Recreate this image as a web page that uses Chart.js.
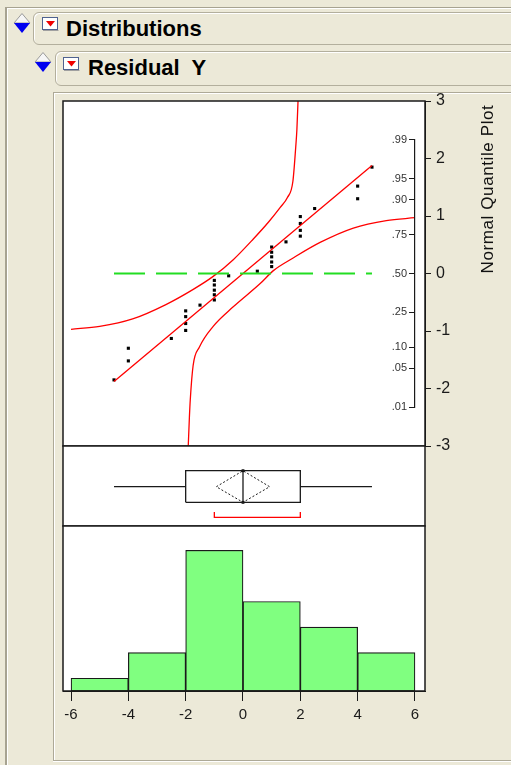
<!DOCTYPE html>
<html>
<head>
<meta charset="utf-8">
<script src="https://cdn.jsdelivr.net/npm/chart.js@4.4.1/dist/chart.umd.min.js"></script>
<style>
  html, body { margin: 0; padding: 0; }
  body { width: 511px; height: 765px; overflow: hidden; background: #ECE9D8; position: relative;
         font-family: "Liberation Sans", Arial, sans-serif; }
  canvas { position: absolute; left: 0; top: 0; }
  .outer { position: absolute; left: 5px; top: 7px; width: 530px; height: 780px;
           border-left: 2px solid #A7A391; border-top: 1px solid #A7A391; box-shadow: inset 1px 1px 0 #fff; }
  .hdr { position: absolute; height: 31px; width: 520px; border: 1px solid #B3AF9D; border-radius: 6px;
         box-shadow: inset 1px 1px 0 #fff; }
  .lbl { position: absolute; font-weight: bold; font-size: 22px; line-height: 22px; white-space: pre; color: #000; }
  .panel { position: absolute; left: 53px; top: 92px; width: 480px; height: 667px;
           border: 1px solid #ADA997; box-shadow: inset 1px 1px 0 #fff, 0 1px 0 #fff; }
  svg { position: absolute; }
  .qtitle { position: absolute; left: 388px; top: 179px; width: 200px; text-align: center;
            font-size: 17px; line-height: 20px; color: #111; transform: rotate(-90deg); letter-spacing: 0.6px; }
</style>
</head>
<body>
<div class="outer"></div>

<div class="hdr" style="left:33px; top:12px;"></div>
<svg style="left:13px; top:13px;" width="18" height="21" viewBox="0 0 18 21">
  <polygon points="9,0.5 17,10 1,10" fill="#F6F6F6" stroke="#9A9A9A" stroke-width="1"/>
  <polygon points="1,10 17,10 9,20" fill="#0000F0"/>
</svg>
<svg style="left:42px; top:17px;" width="17" height="14" viewBox="0 0 17 14">
  <rect x="0.5" y="0.5" width="15" height="12" fill="#fff" stroke="#4F6290"/>
  <polygon points="4,4 13,4 8.5,9.5" fill="#F00000"/>
  <line x1="1" y1="13.5" x2="16.5" y2="13.5" stroke="#A0A0A0"/>
</svg>
<div class="lbl" style="left:66px; top:18px;">Distributions</div>

<div class="hdr" style="left:55px; top:51px; height:33px;"></div>
<svg style="left:34px; top:52px;" width="18" height="21" viewBox="0 0 18 21">
  <polygon points="9,0.5 17,10 1,10" fill="#F6F6F6" stroke="#9A9A9A" stroke-width="1"/>
  <polygon points="1,10 17,10 9,20" fill="#0000F0"/>
</svg>
<svg style="left:63px; top:57px;" width="17" height="14" viewBox="0 0 17 14">
  <rect x="0.5" y="0.5" width="15" height="12" fill="#fff" stroke="#4F6290"/>
  <polygon points="4,4 13,4 8.5,9.5" fill="#F00000"/>
  <line x1="1" y1="13.5" x2="16.5" y2="13.5" stroke="#A0A0A0"/>
</svg>
<div class="lbl" style="left:88px; top:57px;">Residual  Y</div>

<div class="panel"></div>

<canvas id="quant" width="511" height="765"></canvas>
<canvas id="box" width="511" height="765"></canvas>
<canvas id="hist" width="511" height="765"></canvas>
<canvas id="prob" width="511" height="765"></canvas>
<div class="qtitle">Normal Quantile Plot</div>

<script>
// residual values and their normal quantiles
const residuals = [-4.5, -4, -4, -2.5, -2, -2, -2, -2, -1.5, -1, -1, -1, -1, -1, -0.5,
                   0.5, 1, 1, 1, 1, 1, 1.5, 2, 2, 2, 2, 2.5, 4, 4, 4.5];
const quantiles = [-1.85, -1.52, -1.30, -1.13, -0.99, -0.87, -0.75, -0.65, -0.55, -0.46, -0.37, -0.29, -0.20, -0.12, -0.04,
                   0.04, 0.12, 0.20, 0.29, 0.37, 0.46, 0.55, 0.65, 0.75, 0.87, 0.99, 1.13, 1.30, 1.52, 1.85];

// fitted normal line
const fitX = [-4.5, 4.5];
const fitZ = [-1.88, 1.88];

// confidence bands
const upperX = [-6.0, -5.0, -3.85, -2.69, -1.75, -1.04, -0.34, 0.36, 0.9, 1.3, 1.55, 1.74, 1.84, 1.88, 1.92];
const upperZ = [-0.97, -0.92, -0.79, -0.54, -0.28, -0.05, 0.24, 0.60, 0.90, 1.15, 1.32, 1.60, 2.2, 2.5, 3.0];
const lowerX = [-1.91, -1.87, -1.84, -1.74, -1.52, -1.04, -0.34, 0.59, 1.06, 1.75, 2.69, 3.85, 5.0, 6.0];
const lowerZ = [-3.0, -2.5, -2.2, -1.6, -1.28, -0.92, -0.58, -0.18, 0.05, 0.27, 0.54, 0.79, 0.92, 0.97];

// median reference line
const refX = [-4.5, 4.5];
const refZ = [0, 0];

// probability scale
const probLabels = [".01", ".05", ".10", ".25", ".50", ".75", ".90", ".95", ".99"];
const probZ = [-2.326, -1.645, -1.282, -0.674, 0, 0.674, 1.282, 1.645, 2.326];

// box plot summary
const whiskers = [-4.5, 4.5];
const quartiles = [-2, 0, 2];
const meanDiamond = [-0.93, 0, 0.93];
const shortestHalf = [-1, 2];

// histogram
const binCenters = [-5, -3, -1, 1, 3, 5];
const binCounts = [1, 3, 11, 7, 5, 3];
const xTicks = [-6, -4, -2, 0, 2, 4, 6];

const FONT = "'Liberation Sans', Arial, sans-serif";
const X_MIN = -6.28, X_MAX = 6.35;
const INK = "#1a1a1a";

const framePlugin = {
  id: "frame",
  beforeDraw(chart) {
    const a = chart.chartArea, ctx = chart.ctx;
    ctx.save();
    ctx.fillStyle = "#fff";
    ctx.fillRect(a.left, a.top, a.right - a.left, a.bottom - a.top);
    ctx.restore();
  },
  afterDraw(chart) {
    const a = chart.chartArea, ctx = chart.ctx;
    ctx.save();
    ctx.strokeStyle = INK;
    ctx.lineWidth = 1.5;
    ctx.strokeRect(a.left, a.top, a.right - a.left, a.bottom - a.top);
    ctx.restore();
  }
};

const baseOpts = (pad) => ({
  responsive: false,
  animation: false,
  events: [],
  layout: { padding: pad },
  plugins: { legend: { display: false }, tooltip: { enabled: false } }
});

const pts = (xs, ys) => xs.map((x, i) => ({ x: x, y: ys[i] }));
const line = (data, color, extra) => Object.assign({
  data: data, showLine: true, borderColor: color, borderWidth: 1.3, pointRadius: 0, fill: false
}, extra || {});

// ---- normal quantile plot
new Chart(document.getElementById("quant"), {
  type: "scatter",
  data: {
    datasets: [
      line(pts(refX, refZ), "#22DD22", { borderDash: [31, 11], borderWidth: 2 }),
      line(pts(upperX, upperZ), "#FF0000", { cubicInterpolationMode: "monotone" }),
      line(pts(lowerX, lowerZ), "#FF0000", { cubicInterpolationMode: "monotone" }),
      line(pts(fitX, fitZ), "#FF0000"),
      { data: pts(residuals, quantiles), pointStyle: "rect", pointRadius: 2.2, borderWidth: 0,
        backgroundColor: "#000", showLine: false }
    ]
  },
  options: Object.assign(baseOpts({ left: 63, right: 46, top: 101, bottom: 319 }), {
    scales: {
      x: { type: "linear", min: X_MIN, max: X_MAX, display: false },
      y: {
        type: "linear", position: "right", min: -3, max: 3,
        afterFit(s) { s.width = 40; },
        ticks: { stepSize: 1, color: INK, padding: 5, font: { family: FONT, size: 16 } },
        grid: { drawOnChartArea: false, tickLength: 6, color: INK, z: 3 },
        border: { color: INK, width: 1, z: 3 }
      }
    }
  }),
  plugins: [framePlugin]
});

// ---- probability axis inside the quantile plot
new Chart(document.getElementById("prob"), {
  type: "scatter",
  data: { datasets: [{ data: [{ x: 0.5, y: 0 }], pointRadius: 0, showLine: false }] },
  options: Object.assign(baseOpts({ left: 375, right: 86, top: 273.5 - probZ[8] * 57.5, bottom: 765 - (273.5 - probZ[0] * 57.5) }), {
    scales: {
      x: { type: "linear", min: 0, max: 1, display: false },
      y: {
        type: "linear", position: "left", min: probZ[0], max: probZ[8],
        afterFit(s) { s.width = 40; },
        afterBuildTicks(s) { s.ticks = probZ.map(v => ({ value: v })); },
        ticks: { autoSkip: false, color: "#333", padding: 2, font: { family: FONT, size: 11 },
                 callback: (v, i) => probLabels[i] },
        grid: { drawOnChartArea: false, tickLength: 6, color: INK, lineWidth: 1, z: 5 },
        border: { color: INK, width: 1.2, z: 5 }
      }
    }
  })
});

// ---- outlier box plot
const BOX_LO = 0.296, BOX_HI = 0.691, MID = 0.491, BR_LO = 0.109, BR_HI = 0.175;
new Chart(document.getElementById("box"), {
  type: "scatter",
  data: {
    datasets: [
      line([{ x: whiskers[0], y: MID }, { x: quartiles[0], y: MID }], INK),
      line([{ x: quartiles[2], y: MID }, { x: whiskers[1], y: MID }], INK),
      line([{ x: quartiles[0], y: BOX_LO }, { x: quartiles[2], y: BOX_LO }, { x: quartiles[2], y: BOX_HI },
            { x: quartiles[0], y: BOX_HI }, { x: quartiles[0], y: BOX_LO }], INK),
      line([{ x: quartiles[1], y: BOX_LO }, { x: quartiles[1], y: BOX_HI }], INK),
      line([{ x: meanDiamond[0], y: MID }, { x: meanDiamond[1], y: BOX_HI }, { x: meanDiamond[2], y: MID },
            { x: meanDiamond[1], y: BOX_LO }, { x: meanDiamond[0], y: MID }], INK, { borderDash: [2, 2], borderWidth: 1 }),
      line([{ x: shortestHalf[0], y: BR_HI }, { x: shortestHalf[0], y: BR_LO }, { x: shortestHalf[1], y: BR_LO },
            { x: shortestHalf[1], y: BR_HI }], "#FF0000"),
      { data: [{ x: quartiles[1], y: BOX_LO }, { x: quartiles[1], y: BOX_HI }], pointStyle: "rect",
        pointRadius: 2, borderWidth: 0, backgroundColor: "#000", showLine: false }
    ]
  },
  options: Object.assign(baseOpts({ left: 63, right: 86, top: 446, bottom: 239 }), {
    scales: {
      x: { type: "linear", min: X_MIN, max: X_MAX, display: false },
      y: { type: "linear", min: 0, max: 1, display: false }
    }
  }),
  plugins: [framePlugin]
});

// ---- histogram
new Chart(document.getElementById("hist"), {
  type: "bar",
  data: {
    datasets: [{
      data: pts(binCenters, binCounts),
      backgroundColor: "#80FF80",
      borderColor: INK,
      borderWidth: 1.2,
      borderSkipped: false,
      barPercentage: 1,
      categoryPercentage: 1
    }]
  },
  options: Object.assign(baseOpts({ left: 63, right: 86, top: 526, bottom: 44 }), {
    scales: {
      x: {
        type: "linear", min: X_MIN, max: X_MAX, offset: false,
        afterFit(s) { s.height = 30; },
        afterBuildTicks(s) { s.ticks = xTicks.map(v => ({ value: v })); },
        ticks: { autoSkip: false, maxRotation: 0, color: INK, padding: 5, font: { family: FONT, size: 15 } },
        grid: { drawOnChartArea: false, tickLength: 10, color: INK, offset: false, z: 3 },
        border: { color: INK, width: 1, z: 3 }
      },
      y: { type: "linear", min: 0, max: 12.9, display: false }
    }
  }),
  plugins: [framePlugin]
});
</script>
</body>
</html>
